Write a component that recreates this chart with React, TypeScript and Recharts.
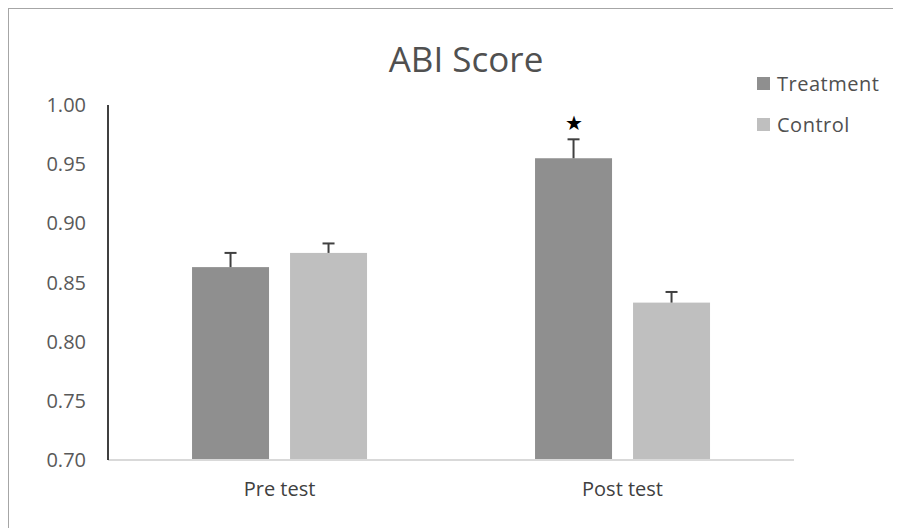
import React from "react";
import { BarChart, Bar, XAxis, YAxis, LabelList } from "recharts";

const categories = ["Pre test", "Post test"];
const treatment = [0.863, 0.955];
const treatmentErr = [0.012, 0.016];
const control = [0.875, 0.833];
const controlErr = [0.008, 0.009];
const significance = ["", "★"];
const yTicks = [0.7, 0.75, 0.8, 0.85, 0.9, 0.95, 1.0];
const yMin = 0.7;
const yMax = 1.0;

const seriesNames = ["Treatment", "Control"];
const seriesColors = ["#8f8f8f", "#bfbfbf"];

const chartData = categories.map((name, i) => ({
  name,
  treatment: treatment[i],
  treatmentErr: treatmentErr[i],
  control: control[i],
  controlErr: controlErr[i],
  sig: significance[i],
}));

// bar with a one-sided (upper) error bar; error length scaled from the bar's own pixel height
const barWithError = (valueKey: string, errKey: string, color: string) => (props: any) => {
  const { x, y, width, height, payload } = props;
  const val = payload[valueKey];
  const err = payload[errKey];
  const pxPerUnit = height / (val - yMin);
  const errPx = err * pxPerUnit;
  const cx = x + width / 2;
  return (
    <g>
      <rect x={x} y={y} width={width} height={height} fill={color} />
      <line x1={cx} x2={cx} y1={y} y2={y - errPx} stroke="#404040" strokeWidth={2} />
      <line x1={cx - 6} x2={cx + 6} y1={y - errPx} y2={y - errPx} stroke="#404040" strokeWidth={2} />
    </g>
  );
};

const App: React.FC = () => {
  return (
    <div
      style={{
        position: "relative",
        width: 893,
        height: 520,
        overflow: "hidden",
        fontFamily: "'Open Sans', sans-serif",
      }}
    >
      {/* chart frame: only top and left edges fall inside the view */}
      <div
        style={{
          position: "absolute",
          left: -1,
          top: -1,
          width: 900,
          height: 530,
          borderTop: "2px solid #a6a6a6",
          borderLeft: "2px solid #a6a6a6",
        }}
      />
      <div
        style={{
          position: "absolute",
          left: 0,
          width: 916,
          top: 34,
          textAlign: "center",
          fontSize: 35,
          lineHeight: "34px",
          color: "#505050",
        }}
      >
        ABI Score
      </div>
      <div style={{ position: "absolute", left: 749, top: 63 }}>
        {seriesNames.map((s, i) => (
          <div
            key={s}
            style={{
              display: "flex",
              alignItems: "center",
              height: 24,
              marginBottom: i === 0 ? 17 : 0,
              fontSize: 20,
              color: "#505050",
              letterSpacing: 0.5,
            }}
          >
            <span
              style={{
                display: "inline-block",
                width: 13,
                height: 13,
                background: seriesColors[i],
                marginRight: 7,
              }}
            />
            {s}
          </div>
        ))}
      </div>
      <BarChart
        width={893}
        height={520}
        data={chartData}
        margin={{ top: 97, right: 107, bottom: 38, left: 40 }}
        barCategoryGap="24.5%"
        barGap={21}
        style={{ position: "absolute", left: 0, top: 0 }}
      >
        <XAxis
          dataKey="name"
          height={30}
          axisLine={{ stroke: "#d9d9d9", strokeWidth: 2 }}
          tickLine={false}
          tickMargin={16}
          tick={{ fill: "#404040", fontSize: 20 }}
        />
        <YAxis
          domain={[yMin, yMax]}
          ticks={yTicks}
          width={60}
          allowDataOverflow
          axisLine={{ stroke: "#000000", strokeWidth: 1.5 }}
          tickLine={false}
          tickMargin={16}
          tickFormatter={(v: number) => v.toFixed(2)}
          tick={{ fill: "#595959", fontSize: 20 }}
        />
        <Bar
          dataKey="treatment"
          name="Treatment"
          fill={seriesColors[0]}
          isAnimationActive={false}
          shape={barWithError("treatment", "treatmentErr", seriesColors[0])}
        >
          <LabelList dataKey="sig" position="top" offset={28} fill="#000000" fontSize={20} />
        </Bar>
        <Bar
          dataKey="control"
          name="Control"
          fill={seriesColors[1]}
          isAnimationActive={false}
          shape={barWithError("control", "controlErr", seriesColors[1])}
        />
      </BarChart>
    </div>
  );
};

export default App;
